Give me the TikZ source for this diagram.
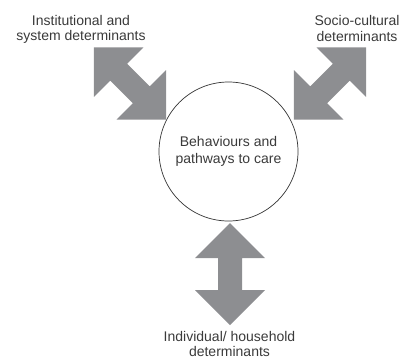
\documentclass[tikz,border=0pt]{standalone}
\usepackage{fontspec}
\setmainfont{Liberation Sans}
\definecolor{arrgray}{RGB}{141,142,145}
\definecolor{txtgray}{RGB}{58,58,58}
\begin{document}
\begin{tikzpicture}[x=1pt,y=1pt,font=\fontsize{14}{15.5}\selectfont,text=txtgray]
            \def\fatarrow(#1,#2)#3{\fill[arrgray,shift={(#1,#2)},rotate=#3]
                (51,0)--(16,35)--(16,12)--(-16,12)--(-16,35)--(-51,0)
                --(-16,-35)--(-16,-12)--(16,-12)--(16,-35)--cycle;}
            \useasboundingbox (0,0) rectangle (401,360);
            %===========================================
            \node[circle,draw=black!80,line width=0.7pt,minimum size=139pt,align=center,
                font=\fontsize{14}{17}\selectfont] (care) at (228.5,208.5)
                {Behaviours and\\pathways to care};
            \node[align=center] (inst) at (81,330.5) {Institutional and\\system determinants};
            \node[align=center] (socio) at (357,331.5) {Socio-cultural\\determinants};
            \node[align=center] (indiv) at (229.5,16) {Individual/ household\\determinants};
            %===========================================
            \fatarrow(130,276.5){-45}
            \fatarrow(330,276.5){45}
            \fatarrow(230,86){90}
    \end{tikzpicture}
\end{document}
